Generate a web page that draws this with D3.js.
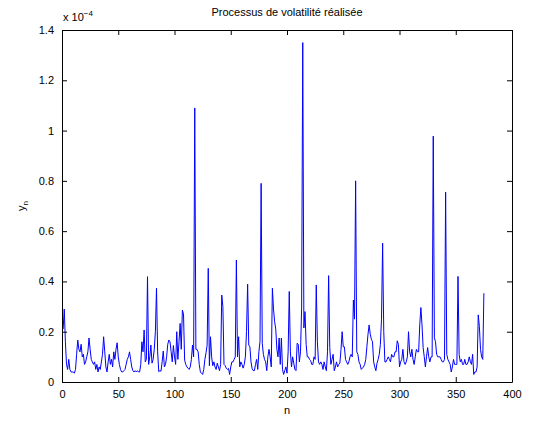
<!DOCTYPE html>
<html>
<head>
<meta charset="utf-8">
<script src="https://cdn.jsdelivr.net/npm/d3@7"></script>
<style>
  body { margin: 0; background: #fff; }
  text { font-family: "Liberation Sans", Arial, sans-serif; }
</style>
</head>
<body>
<div id="chart"></div>
<script>
// realised volatility y_n, in units of 1e-4, for n = 1..375
const yValues = [
  0.21, 0.29, 0.16, 0.07, 0.05, 0.09, 0.05, 0.04, 0.04, 0.04,
  0.035, 0.05, 0.11, 0.167, 0.13, 0.12, 0.15, 0.10, 0.11, 0.07,
  0.08, 0.10, 0.12, 0.175, 0.13, 0.09, 0.08, 0.07, 0.08, 0.05,
  0.07, 0.04, 0.06, 0.05, 0.08, 0.11, 0.18, 0.12, 0.06, 0.04,
  0.08, 0.11, 0.07, 0.09, 0.06, 0.12, 0.09, 0.13, 0.156, 0.10,
  0.07, 0.05, 0.04, 0.04, 0.045, 0.05, 0.07, 0.09, 0.10, 0.12,
  0.09, 0.06, 0.045, 0.04, 0.045, 0.04, 0.045, 0.04, 0.04, 0.07,
  0.16, 0.12, 0.207, 0.08, 0.09, 0.419, 0.07, 0.10, 0.147, 0.075,
  0.09, 0.13, 0.20, 0.373, 0.12, 0.041, 0.045, 0.043, 0.08, 0.123,
  0.06, 0.07, 0.10, 0.15, 0.167, 0.16, 0.12, 0.08, 0.145, 0.10,
  0.07, 0.20, 0.09, 0.16, 0.233, 0.13, 0.286, 0.27, 0.087, 0.07,
  0.06, 0.055, 0.05, 0.06, 0.09, 0.147, 0.10, 1.09, 0.13, 0.13,
  0.12, 0.07, 0.04, 0.035, 0.03, 0.05, 0.09, 0.116, 0.146, 0.452,
  0.065, 0.18, 0.10, 0.065, 0.08, 0.06, 0.05, 0.075, 0.06, 0.045,
  0.07, 0.346, 0.30, 0.07, 0.065, 0.055, 0.05, 0.054, 0.03, 0.06,
  0.08, 0.08, 0.09, 0.10, 0.485, 0.10, 0.18, 0.06, 0.08, 0.07,
  0.055, 0.07, 0.10, 0.20, 0.389, 0.147, 0.14, 0.08, 0.053, 0.045,
  0.045, 0.07, 0.09, 0.05, 0.12, 0.16, 0.79, 0.154, 0.11, 0.09,
  0.08, 0.045, 0.10, 0.13, 0.10, 0.06, 0.373, 0.29, 0.24, 0.21,
  0.13, 0.10, 0.175, 0.07, 0.175, 0.05, 0.03, 0.045, 0.06, 0.035,
  0.12, 0.36, 0.12, 0.06, 0.10, 0.075, 0.05, 0.045, 0.154, 0.15,
  0.08, 0.12, 0.294, 1.35, 0.215, 0.28, 0.15, 0.10, 0.10, 0.09,
  0.085, 0.07, 0.07, 0.10, 0.09, 0.386, 0.16, 0.08, 0.07, 0.08,
  0.07, 0.05, 0.08, 0.06, 0.045, 0.12, 0.423, 0.137, 0.07, 0.09,
  0.11, 0.045, 0.06, 0.08, 0.06, 0.07, 0.075, 0.13, 0.20, 0.14,
  0.14, 0.09, 0.08, 0.07, 0.08, 0.10, 0.11, 0.10, 0.326, 0.25,
  0.80, 0.12, 0.11, 0.08, 0.07, 0.05, 0.055, 0.06, 0.07, 0.09,
  0.14, 0.19, 0.227, 0.19, 0.17, 0.16, 0.08, 0.06, 0.045, 0.075,
  0.09, 0.11, 0.15, 0.25, 0.552, 0.20, 0.08, 0.08, 0.09, 0.10,
  0.09, 0.08, 0.11, 0.10, 0.10, 0.12, 0.12, 0.164, 0.15, 0.06,
  0.08, 0.09, 0.13, 0.08, 0.07, 0.08, 0.10, 0.20, 0.12, 0.10,
  0.13, 0.09, 0.07, 0.10, 0.13, 0.12, 0.12, 0.227, 0.296, 0.227,
  0.137, 0.10, 0.06, 0.10, 0.137, 0.10, 0.08, 0.10, 0.10, 0.978,
  0.176, 0.16, 0.11, 0.10, 0.10, 0.10, 0.09, 0.08, 0.08, 0.09,
  0.755, 0.11, 0.09, 0.08, 0.07, 0.04, 0.06, 0.09, 0.07, 0.07,
  0.07, 0.42, 0.11, 0.08, 0.09, 0.07, 0.07, 0.09, 0.07, 0.07,
  0.08, 0.10, 0.08, 0.07, 0.11, 0.03, 0.04, 0.04, 0.06, 0.267,
  0.22, 0.13, 0.10, 0.09, 0.353
];

const xTicks = [0, 50, 100, 150, 200, 250, 300, 350, 400];
const yTicks = [0, 0.2, 0.4, 0.6, 0.8, 1, 1.2, 1.4];

const title = "Processus de volatilité réalisée";

const width = 534, height = 423;
const margin = { top: 30, right: 22, bottom: 41, left: 62 };

const svg = d3.select("#chart")
  .append("svg")
  .attr("width", width)
  .attr("height", height)
  .style("display", "block");

const x = d3.scaleLinear()
  .domain([0, 400])
  .range([margin.left, width - margin.right]);

const y = d3.scaleLinear()
  .domain([0, 1.4])
  .range([height - margin.bottom, margin.top]);

const tickLen = 5;

// line
const line = d3.line()
  .x((d, i) => x(i + 1))
  .y(d => y(d));

svg.append("path")
  .datum(yValues)
  .attr("fill", "none")
  .attr("stroke", "#0000ff")
  .attr("stroke-width", 1)
  .attr("stroke-linejoin", "miter")
  .attr("d", line);

// axes, MATLAB style: ticks inside, on all four sides
const fmtY = d => d === 0 ? "0" : d3.format("~g")(d);

const gBottom = svg.append("g")
  .attr("transform", `translate(0,${height - margin.bottom})`)
  .call(d3.axisBottom(x).tickValues(xTicks).tickSize(-tickLen).tickPadding(8).tickSizeOuter(0));

const gTop = svg.append("g")
  .attr("transform", `translate(0,${margin.top})`)
  .call(d3.axisTop(x).tickValues(xTicks).tickSize(-tickLen).tickFormat("").tickSizeOuter(0));

const gLeft = svg.append("g")
  .attr("transform", `translate(${margin.left},0)`)
  .call(d3.axisLeft(y).tickValues(yTicks).tickSize(-tickLen).tickPadding(8).tickFormat(fmtY).tickSizeOuter(0));

const gRight = svg.append("g")
  .attr("transform", `translate(${width - margin.right},0)`)
  .call(d3.axisRight(y).tickValues(yTicks).tickSize(-tickLen).tickFormat("").tickSizeOuter(0));

[gBottom, gTop, gLeft, gRight].forEach(g => {
  g.selectAll(".domain").attr("stroke", "#000").attr("stroke-width", 1);
  g.selectAll(".tick line").attr("stroke", "#000");
  g.selectAll(".tick text")
    .attr("fill", "#000")
    .style("font-family", "'Liberation Sans', Arial, sans-serif")
    .style("font-size", "11px");
});

// exponent label
const expo = svg.append("text")
  .attr("x", margin.left + 1)
  .attr("y", margin.top - 9)
  .style("font-size", "11px")
  .attr("fill", "#000");
expo.append("tspan").text("x 10");
expo.append("tspan").attr("dy", -5).style("font-size", "8px").text("\u22124");

// title
svg.append("text")
  .attr("x", (margin.left + width - margin.right) / 2)
  .attr("y", 16)
  .attr("text-anchor", "middle")
  .style("font-size", "11px")
  .attr("fill", "#000")
  .text(title);

// x label
svg.append("text")
  .attr("x", (margin.left + width - margin.right) / 2)
  .attr("y", 414)
  .attr("text-anchor", "middle")
  .style("font-size", "11px")
  .attr("fill", "#000")
  .text("n");

// y label
const yl = svg.append("text")
  .attr("transform", `translate(25,${(margin.top + height - margin.bottom) / 2}) rotate(-90)`)
  .attr("text-anchor", "middle")
  .style("font-size", "11px")
  .attr("fill", "#000");
yl.append("tspan").text("y");
yl.append("tspan").attr("dy", 3).style("font-size", "8px").text("n");
</script>
</body>
</html>
